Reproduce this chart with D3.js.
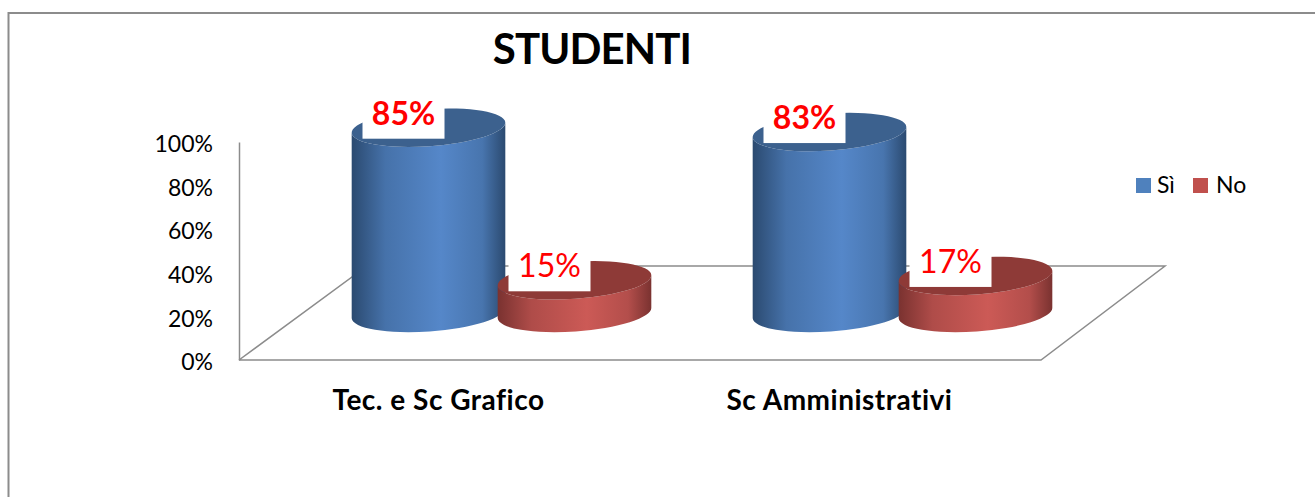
<!DOCTYPE html>
<html>
<head>
<meta charset="utf-8">
<script src="https://cdn.jsdelivr.net/npm/d3@7"></script>
<style>
  html, body { margin: 0; padding: 0; background: #fff; }
  svg { display: block; font-family: Lato, "Open Sans", sans-serif; }
</style>
</head>
<body>
<div id="chart"></div>
<script>
var categories = ["Tec. e Sc Grafico", "Sc Amministrativi"];
var seriesNames = ["Sì", "No"];
var siValues = [85, 83];
var noValues = [15, 17];
var yTicks = [0, 20, 40, 60, 80, 100];

var config = {
  w: 1315, h: 497,
  floorLeft: 239, floorRight: 1041,
  floorBottom: 360, wallTop: 142,
  depthX: 124, depthY: 94,
  rx: 77, ry: 18.5, tilt: 4
};

var colors = {
  "Sì": { edge: "#2b4a70", mid: "#5587c9", top: "#3c618e", swatch: "#4f81bd" },
  "No": { edge: "#7a3230", mid: "#cc5a56", top: "#8e3a37", swatch: "#c0504d" }
};

var grey = "#8c8c8c";

var svg = d3.select("#chart").append("svg")
  .attr("width", config.w)
  .attr("height", config.h);

// chart area border, runs off the picture
svg.append("path")
  .attr("d", "M1315,13H8.5V497")
  .attr("fill", "none")
  .attr("stroke", grey)
  .attr("stroke-width", 2);

var y = d3.scaleLinear()
  .domain([0, 100])
  .range([config.floorBottom, config.wallTop]);

var x0 = d3.scaleBand()
  .domain(categories)
  .range([config.floorLeft, config.floorRight]);

var x1 = d3.scaleBand()
  .domain(seriesNames)
  .range([-146, 146]);

// floor and wall
var fx = config.floorLeft, fr = config.floorRight, fb = config.floorBottom;
svg.append("path")
  .attr("d", "M" + fx + "," + fb + "H" + fr
    + "L" + (fr + config.depthX) + "," + (fb - config.depthY)
    + "H" + (fx + config.depthX + 4)
    + "L" + fx + "," + fb)
  .attr("fill", "none")
  .attr("stroke", grey)
  .attr("stroke-width", 1.5);

var yAxis = d3.axisLeft(y)
  .tickValues(yTicks)
  .tickSize(0)
  .tickPadding(26)
  .tickFormat(function(d) { return d + "%"; });

var yG = svg.append("g")
  .attr("transform", "translate(" + fx + ",0)")
  .call(yAxis);
yG.select(".domain").attr("stroke", grey).attr("stroke-width", 1.5);
yG.selectAll("text")
  .attr("dy", "0.42em")
  .style("font-family", "Lato, sans-serif")
  .style("font-size", "23px")
  .attr("fill", "#000");

// side gradients
var defs = svg.append("defs");
seriesNames.forEach(function(name, i) {
  var g = defs.append("linearGradient")
    .attr("id", "side" + i)
    .attr("x1", 0).attr("x2", 1).attr("y1", 0).attr("y2", 0);
  var c = colors[name];
  g.append("stop").attr("offset", "0%").attr("stop-color", c.edge);
  g.append("stop").attr("offset", "22%").attr("stop-color", d3.interpolateRgb(c.edge, c.mid)(0.65));
  g.append("stop").attr("offset", "58%").attr("stop-color", c.mid);
  g.append("stop").attr("offset", "85%").attr("stop-color", d3.interpolateRgb(c.edge, c.mid)(0.7));
  g.append("stop").attr("offset", "100%").attr("stop-color", c.edge);
});

var bars = [];
categories.forEach(function(cat, i) {
  bars.push({ cat: cat, series: "Sì", s: 0, value: siValues[i] });
  bars.push({ cat: cat, series: "No", s: 1, value: noValues[i] });
});

function barX(d) {
  return x0(d.cat) + x0.bandwidth() / 2 + config.depthX / 2 + x1(d.series) + x1.bandwidth() / 2;
}
// the cylinders stand half way back on the floor
function baseY() {
  return y(0) - config.depthY / 2;
}
function barTop(d) {
  return baseY() - (y(0) - y(d.value));
}

var a = config.tilt * Math.PI / 180;
var ex = config.rx * Math.cos(a), ey = config.rx * Math.sin(a);

function sidePath(d) {
  var cx = barX(d), t = barTop(d), b = baseY();
  return "M" + (cx - ex) + "," + (t + ey)
    + "L" + (cx - ex) + "," + (b + ey)
    + "A" + config.rx + "," + config.ry + " " + (-config.tilt) + " 0 0 " + (cx + ex) + "," + (b - ey)
    + "L" + (cx + ex) + "," + (t - ey)
    + "A" + config.rx + "," + config.ry + " " + (-config.tilt) + " 0 1 " + (cx - ex) + "," + (t + ey)
    + "Z";
}

var bar = svg.selectAll(".bar")
  .data(bars)
  .enter().append("g")
  .attr("class", "bar");

bar.append("path")
  .attr("d", sidePath)
  .attr("fill", function(d) { return "url(#side" + d.s + ")"; });

bar.append("ellipse")
  .attr("rx", config.rx)
  .attr("ry", config.ry)
  .attr("transform", function(d) {
    return "translate(" + barX(d) + "," + barTop(d) + ") rotate(" + (-config.tilt) + ")";
  })
  .attr("fill", function(d) { return colors[d.series].top; });

// value labels with white box
var label = svg.selectAll(".value-label")
  .data(bars)
  .enter().append("g")
  .attr("class", "value-label")
  .attr("transform", function(d) {
    return "translate(" + (barX(d) - 25) + "," + (barTop(d) + 11) + ")";
  });

label.append("rect")
  .attr("x", -41)
  .attr("y", -43)
  .attr("width", 82)
  .attr("height", 43)
  .attr("fill", "#fff");

label.append("text")
  .attr("y", -14)
  .attr("text-anchor", "middle")
  .attr("fill", "#f00")
  .attr("font-size", 32)
  .attr("font-weight", function(d) { return d.s === 0 ? 700 : 400; })
  .text(function(d) { return d.value + "%"; });

// title
svg.append("text")
  .attr("x", 592)
  .attr("y", 64)
  .attr("text-anchor", "middle")
  .attr("font-size", 42)
  .attr("font-weight", 700)
  .attr("letter-spacing", -0.9)
  .attr("fill", "#000")
  .text("STUDENTI");

// category labels
svg.selectAll(".cat-label")
  .data(categories)
  .enter().append("text")
  .attr("class", "cat-label")
  .attr("x", function(d) { return x0(d) + x0.bandwidth() / 2 - 1; })
  .attr("y", 410)
  .attr("text-anchor", "middle")
  .attr("font-size", 28)
  .attr("font-weight", 700)
  .attr("letter-spacing", 0.5)
  .attr("fill", "#000")
  .text(function(d) { return d; });

// legend
var legendX = [1136, 1193];
var legend = svg.selectAll(".legend")
  .data(seriesNames)
  .enter().append("g")
  .attr("class", "legend")
  .attr("transform", function(d, i) { return "translate(" + legendX[i] + ",178)"; });

legend.append("rect")
  .attr("width", 15)
  .attr("height", 15)
  .attr("fill", function(d) { return colors[d].swatch; });

legend.append("text")
  .attr("x", function(d, i) { return i === 0 ? 21 : 23; })
  .attr("y", 15)
  .attr("font-size", 23)
  .attr("fill", "#000")
  .text(function(d) { return d; });
</script>
</body>
</html>
